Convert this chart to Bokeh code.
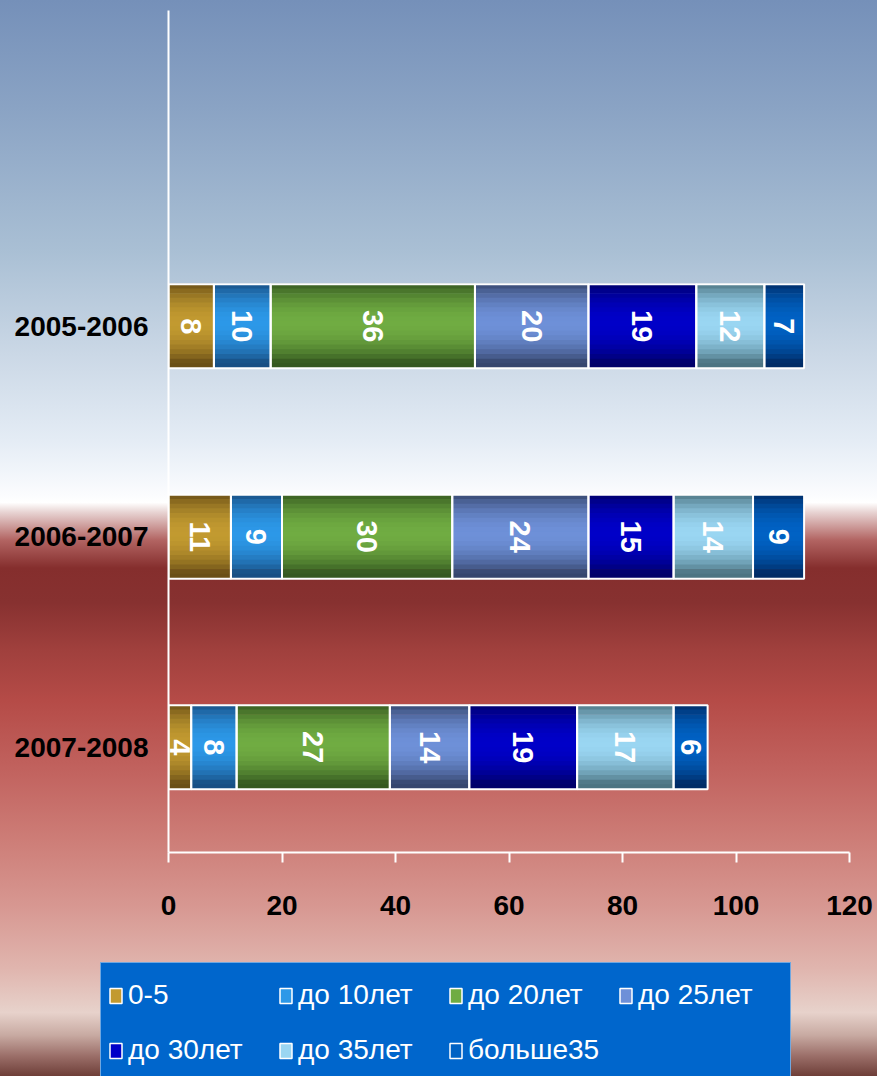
import numpy as np
from bokeh.plotting import figure
from bokeh.layouts import column, row
from bokeh.models import Legend, LegendItem, FixedTicker, ColumnDataSource, Range1d
from bokeh.core.properties import value
from bokeh.embed import file_html
from bokeh.resources import INLINE

# ---------------- data ----------------
periods = ["2005-2006", "2006-2007", "2007-2008"]
groups = ["0-5", "до 10лет", "до 20лет", "до 25лет", "до 30лет", "до 35лет", "больше35"]
v_0_5 = [8, 11, 4]
v_do10 = [10, 9, 8]
v_do20 = [36, 30, 27]
v_do25 = [20, 24, 14]
v_do30 = [19, 15, 19]
v_do35 = [12, 14, 17]
v_bolshe35 = [7, 9, 6]
x_ticks = [0, 20, 40, 60, 80, 100, 120]

series = [v_0_5, v_do10, v_do20, v_do25, v_do30, v_do35, v_bolshe35]

# ---------------- styles ----------------
mid_colors = ["#c29a30", "#2c98e8", "#70ac42", "#6e90d8", "#0000c8", "#9ad6f2", "#0062c4"]
edge_colors = ["#6a4f16", "#184f84", "#355820", "#36466e", "#00006a", "#4c7482", "#002c66"]
period_y = [2.5, 1.5, 0.5]  # positions of the periods (top to bottom)
bar_h = 0.40
n_slices = 18
FONT = "Liberation Sans"

W, H = 877, 1076
H1 = 940
H2 = H - H1
GRAD = ("linear-gradient(180deg, #7590b9 0%, #8aa3c4 10%, #a9bfd4 23.2%, "
        "#cbd8e6 33%, #e4ecf5 40.9%, #fbfcfe 46%, #ffffff 46.7%, #e8d4d3 47.6%, "
        "#b26462 50.2%, #852e2d 52.8%, #873130 56%, #a0403d 60.4%, #b54b47 65.1%, "
        "#c26460 72%, #cd7d77 78%, #d79791 84.1%, #e0b5ae 90%, #e7d2cb 94.1%, "
        "#c8aaa2 96.2%, #9c706a 98.1%, #6e3e38 100%)")


def hex2rgb(h):
    h = h.lstrip("#")
    return np.array([int(h[i:i + 2], 16) for i in (0, 2, 4)], dtype=float)


def rgb2hex(c):
    c = np.clip(np.round(c), 0, 255).astype(int)
    return "#%02x%02x%02x" % tuple(c)


p = figure(width=W, height=H1, output_backend="svg", toolbar_location=None,
           x_range=Range1d(0, 120), y_range=Range1d(0, 4),
           min_border_left=168, min_border_right=28, min_border_top=10,
           min_border_bottom=H1 - 852)
p.background_fill_color = None
p.border_fill_color = None
p.outline_line_color = None
p.xgrid.visible = False
p.ygrid.visible = False
p.styles = {"background-image": GRAD, "background-size": f"{W}px {H}px",
            "background-position": "0px 0px", "background-repeat": "no-repeat"}

# gradient slices of every segment
sl_left, sl_right, sl_y, sl_c = [], [], [], []
seg_left, seg_right, seg_y, lab_x, lab_y, lab_t = [], [], [], [], [], []
for j, vals in enumerate(series):
    mid = hex2rgb(mid_colors[j])
    edge = hex2rgb(edge_colors[j])
    for i, v in enumerate(vals):
        left = sum(s[i] for s in series[:j])
        right = left + v
        yc = period_y[i]
        seg_left.append(left)
        seg_right.append(right)
        seg_y.append(yc)
        lab_x.append(left + v / 2)
        lab_y.append(yc)
        lab_t.append(str(v))
        for k in range(n_slices):
            s = (k + 0.5) / n_slices  # 0 top -> 1 bottom
            f = np.sin(np.pi * min(1.0, s * 1.08)) ** 0.8
            col = edge + (mid - edge) * f
            sl_left.append(left)
            sl_right.append(right)
            sl_y.append(yc + bar_h / 2 - s * bar_h)
            sl_c.append(rgb2hex(col))

slices = ColumnDataSource(dict(left=sl_left, right=sl_right, y=sl_y, c=sl_c))
p.hbar(y="y", left="left", right="right", height=bar_h / n_slices * 1.15,
       fill_color="c", line_color=None, source=slices)

segs = ColumnDataSource(dict(left=seg_left, right=seg_right, y=seg_y))
p.hbar(y="y", left="left", right="right", height=bar_h, fill_color=None,
       line_color="white", line_width=2, source=segs)

labels = ColumnDataSource(dict(x=lab_x, y=lab_y, t=lab_t))
p.text(x="x", y="y", text="t", angle=-np.pi / 2, text_align="center",
       text_baseline="middle", text_color="white", text_font=value(FONT),
       text_font_style="bold", text_font_size="29px", source=labels)

# axes
p.xaxis.ticker = FixedTicker(ticks=x_ticks)
p.xaxis.axis_line_color = "white"
p.xaxis.axis_line_width = 2
p.xaxis.major_tick_line_color = "white"
p.xaxis.major_tick_line_width = 2
p.xaxis.major_tick_out = 10
p.xaxis.major_tick_in = 0
p.xaxis.minor_tick_line_color = None
p.xaxis.major_label_text_font = FONT
p.xaxis.major_label_text_font_style = "bold"
p.xaxis.major_label_text_font_size = "28px"
p.xaxis.major_label_text_color = "black"
p.xaxis.major_label_standoff = 33

p.yaxis.ticker = FixedTicker(ticks=period_y)
p.yaxis.major_label_overrides = {period_y[i]: periods[i] for i in range(3)}
p.yaxis.axis_line_color = "white"
p.yaxis.axis_line_width = 2
p.yaxis.major_tick_line_color = None
p.yaxis.minor_tick_line_color = None
p.yaxis.major_label_text_font = FONT
p.yaxis.major_label_text_font_style = "bold"
p.yaxis.major_label_text_font_size = "28px"
p.yaxis.major_label_text_color = "black"
p.yaxis.major_label_standoff = 14

# ---------------- legend strip ----------------
p2 = figure(width=W, height=H2, output_backend="svg", toolbar_location=None,
            x_range=Range1d(0, 1), y_range=Range1d(0, 1), min_border=0)
p2.axis.visible = False
p2.grid.visible = False
p2.background_fill_color = None
p2.border_fill_color = None
p2.outline_line_color = None
p2.styles = {"background-image": GRAD, "background-size": f"{W}px {H}px",
             "background-position": f"0px {-H1}px", "background-repeat": "no-repeat"}

sw = ColumnDataSource(dict(left=[5] * 7, right=[6] * 7, y=[-10] * 7, c=mid_colors))
sw_r = p2.hbar(y="y", left="left", right="right", height=0.1, fill_color="c",
               line_color="white", line_width=1.5, source=sw)
items = [LegendItem(label=g, renderers=[sw_r], index=i) for i, g in enumerate(groups)]
leg_h = 8 + 50 + 5 + 50 + 8
legend = Legend(items=items, location=(100, H2 - 22 - leg_h), orientation="horizontal",
                ncols=4, background_fill_color="#0066cc", background_fill_alpha=1.0,
                border_line_color="#dfe8f4", border_line_width=1.5,
                label_text_color="white", label_text_font=FONT,
                label_text_font_size="28px", glyph_width=15, glyph_height=19,
                label_standoff=5, label_width=145, label_height=50, spacing=5,
                padding=7, margin=0)
p2.add_layout(legend, "center")

layout = column(p, row(p2, spacing=0), spacing=0)
open("out.html", "w").write(file_html(layout, INLINE))
